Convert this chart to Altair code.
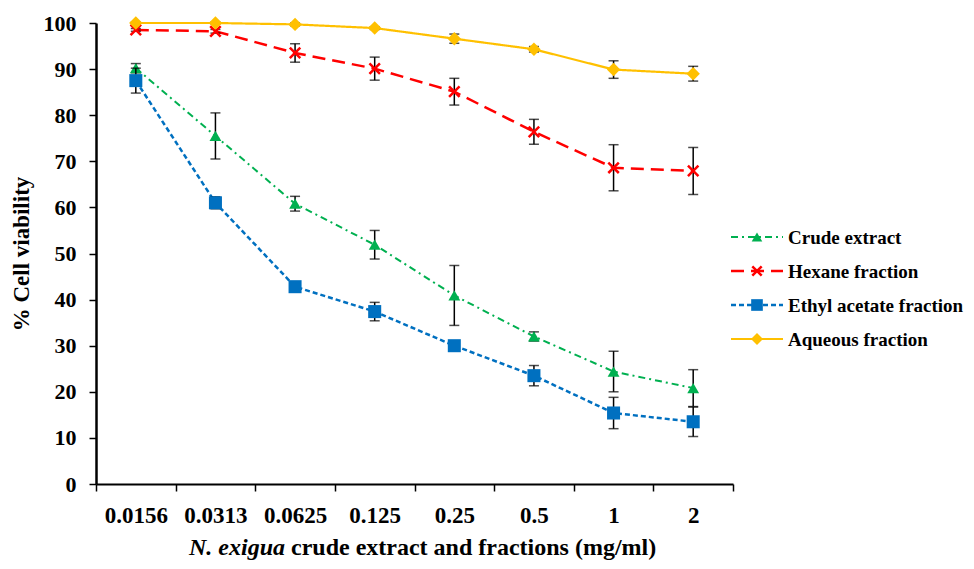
import altair as alt
import pandas as pd

categories = ["0.0156", "0.0313", "0.0625", "0.125", "0.25", "0.5", "1", "2"]
series_names = ["Crude extract", "Hexane fraction", "Ethyl acetate fraction", "Aqueous fraction"]

crude = [90.2, 75.5, 60.8, 51.9, 40.9, 32.0, 24.4, 20.8]
crude_err = [1.0, 5.0, 1.6, 3.1, 6.5, 1.0, 4.4, 4.0]
hexane = [98.5, 98.2, 93.5, 90.1, 85.1, 76.4, 68.6, 67.9]
hexane_err = [0.3, 0.4, 2.0, 2.5, 2.9, 2.7, 5.0, 5.1]
ethyl = [87.5, 61.0, 42.8, 37.4, 30.0, 23.5, 15.4, 13.5]
ethyl_err = [2.7, 1.3, 0.6, 2.0, 0.6, 2.2, 3.4, 3.2]
aqueous = [100.0, 100.0, 99.7, 98.9, 96.6, 94.3, 89.9, 89.0]
aqueous_err = [0.2, 0.2, 0.3, 0.3, 1.0, 0.6, 1.9, 1.6]

values = [crude, hexane, ethyl, aqueous]
errors = [crude_err, hexane_err, ethyl_err, aqueous_err]

FONT = "Liberation Serif"

styles = [
    dict(color="#00B050", dash=[7, 4, 2, 4], width=2, shape="triangle-up", size=140, filled=True),
    dict(color="#FF0000", dash=[13, 7], width=2.5, shape="M-1,-1L1,1M-1,1L1,-1", size=110, filled=False),
    dict(color="#0070C0", dash=[5, 3], width=2.5, shape="square", size=170, filled=True),
    dict(color="#FFC000", dash=[1, 0], width=2.2, shape="diamond", size=180, filled=True),
]

x_enc = alt.X(
    "conc:N",
    sort=categories,
    bandPosition=0.5,
    scale=alt.Scale(type="band", paddingInner=0, paddingOuter=0, domain=categories),
    axis=alt.Axis(
        title=None, labelAngle=0, tickBand="extent",
        labelFont=FONT, labelFontSize=23, labelFontWeight="bold", labelColor="black",
        domainColor="black", domainWidth=2, tickColor="black", tickWidth=1.5, tickSize=7,
        labelPadding=13, grid=False,
    ),
)
y_scale = alt.Scale(domain=[0, 100], nice=False, zero=True)
y_axis = alt.Axis(
    title="% Cell viability", values=list(range(0, 101, 10)),
    titleFont=FONT, titleFontSize=23, titleFontWeight="bold", titleColor="black", titlePadding=10,
    labelFont=FONT, labelFontSize=22, labelFontWeight="bold", labelColor="black",
    domainColor="black", domainWidth=2.5, tickColor="black", tickWidth=1.5, tickSize=7,
    labelPadding=13, grid=False,
)


def yq(field):
    return alt.Y(field, scale=y_scale, axis=y_axis)


layers = []
for i, name in enumerate(series_names):
    st = styles[i]
    df = pd.DataFrame({
        "conc": categories,
        "val": values[i],
        "lo": [v - e for v, e in zip(values[i], errors[i])],
        "hi": [v + e for v, e in zip(values[i], errors[i])],
        "series": name,
    })
    base = alt.Chart(df)
    line = base.mark_line(color=st["color"], strokeWidth=st["width"], strokeDash=st["dash"]).encode(
        x=x_enc, y=yq("val:Q")
    )
    rule = base.mark_rule(color="black", strokeWidth=1.5).encode(x=x_enc, y=yq("lo:Q"), y2="hi:Q")
    cap_lo = base.mark_tick(color="black", size=10, thickness=1.5).encode(x=x_enc, y=yq("lo:Q"))
    cap_hi = base.mark_tick(color="black", size=10, thickness=1.5).encode(x=x_enc, y=yq("hi:Q"))
    if st["filled"]:
        pt = base.mark_point(shape=st["shape"], size=st["size"], filled=True, color=st["color"], opacity=1)
    else:
        pt = base.mark_point(shape=st["shape"], size=st["size"], filled=False, color=st["color"],
                             strokeWidth=2.5, opacity=1)
    pt = pt.encode(x=x_enc, y=yq("val:Q"))
    layers += [line, rule, cap_lo, cap_hi, pt]

# legend (drawn by hand on the right)
one = pd.DataFrame({"a": [0]})
for i, name in enumerate(series_names):
    st = styles[i]
    yy = 214 + 34 * i
    lg_line = alt.Chart(one).mark_rule(color=st["color"], strokeWidth=st["width"], strokeDash=st["dash"]).encode(
        x=alt.value(635), x2=alt.value(687), y=alt.value(yy)
    )
    if st["filled"]:
        lg_pt = alt.Chart(one).mark_point(shape=st["shape"], size=st["size"] * 0.8, filled=True,
                                          color=st["color"], opacity=1)
    else:
        lg_pt = alt.Chart(one).mark_point(shape=st["shape"], size=st["size"] * 0.8, filled=False,
                                          color=st["color"], strokeWidth=2.5, opacity=1)
    lg_pt = lg_pt.encode(x=alt.value(661), y=alt.value(yy))
    lg_txt = alt.Chart(one).mark_text(text=name, align="left", baseline="middle", font=FONT,
                                      fontSize=19, fontWeight="bold", color="black").encode(
        x=alt.value(692), y=alt.value(yy + 1)
    )
    layers += [lg_line, lg_pt, lg_txt]

# x-axis title with italic species name
t1 = alt.Chart(one).mark_text(text="N. exigua", align="right", baseline="middle", font=FONT,
                              fontSize=24, fontWeight="bold", fontStyle="italic", color="black").encode(
    x=alt.value(189), y=alt.value(525)
)
t2 = alt.Chart(one).mark_text(text="crude extract and fractions (mg/ml)", align="left", baseline="middle",
                              font=FONT, fontSize=24, fontWeight="bold", color="black").encode(
    x=alt.value(195), y=alt.value(525)
)
layers += [t1, t2]

chart = alt.layer(*layers).properties(
    width=637, height=461,
    padding={"left": 88, "top": 15, "right": 233, "bottom": 77},
    autosize=alt.AutoSizeParams(type="none"),
    background="white",
).configure_view(stroke=None)

chart.save("out.html", embed_options={"renderer": "svg", "actions": False})
